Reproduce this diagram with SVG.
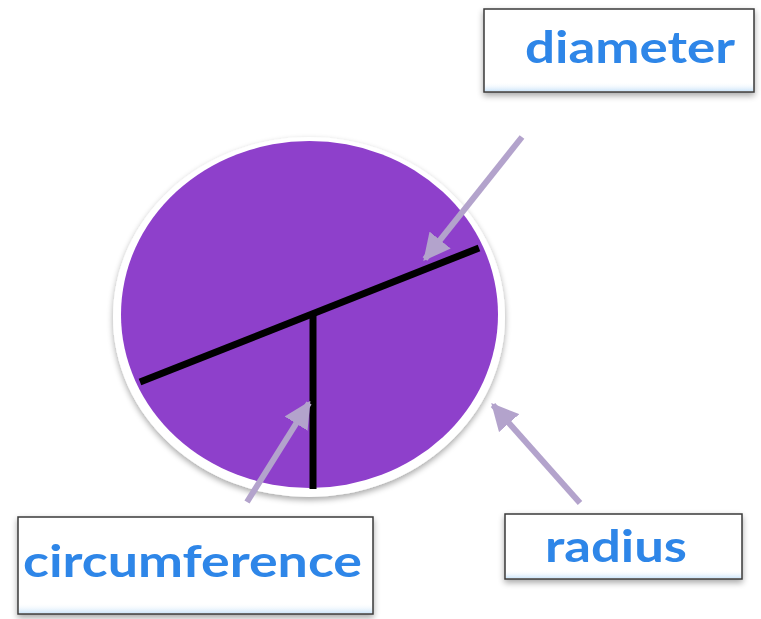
<svg xmlns="http://www.w3.org/2000/svg" width="761" height="619" viewBox="0 0 761 619">
<defs>
<style>
.box{fill:#fff;stroke:#3a3a3a;stroke-width:1.5}
.lbl{font-family:Lato,"Open Sans",sans-serif;font-size:43px;font-weight:bold;fill:#2f86e8}
.arr{stroke:#b3a3cc;stroke-width:6;fill:none}
.blk{stroke:#000;stroke-width:7;fill:none}
</style>
<filter id="sh" x="-20%" y="-20%" width="140%" height="140%">
<feGaussianBlur in="SourceAlpha" stdDeviation="3"/>
<feOffset dx="0" dy="3"/>
<feComponentTransfer><feFuncA type="linear" slope="0.35"/></feComponentTransfer>
<feMerge><feMergeNode/><feMergeNode in="SourceGraphic"/></feMerge>
</filter>
<linearGradient id="haze" x1="0" y1="0" x2="0" y2="1">
<stop offset="0" stop-color="#fff" stop-opacity="0"/>
<stop offset="1" stop-color="#cfe6fa"/>
</linearGradient>
<marker id="ah" viewBox="0 0 10 10" refX="9" refY="5" markerWidth="4.5" markerHeight="4.5" orient="auto" markerUnits="strokeWidth">
<path d="M0,0 L10,5 L0,10 z" fill="#b3a3cc"/>
</marker>
</defs>
<rect width="761" height="619" fill="#fff"/>
<g id="circle" filter="url(#sh)">
<ellipse cx="309" cy="317" rx="196" ry="180" fill="#fff"/>
<ellipse cx="309.5" cy="314.5" rx="188.5" ry="173.5" fill="#8e3fcb"/>
</g>
<g id="lines">
<line class="blk" x1="140" y1="382" x2="479" y2="248"/>
<line class="blk" x1="313" y1="314" x2="313" y2="489"/>
</g>
<g id="connectors">
<line class="arr" x1="522" y1="137" x2="425" y2="259" marker-end="url(#ah)"/>
<line class="arr" x1="247" y1="502" x2="309" y2="403" marker-end="url(#ah)"/>
<line class="arr" x1="580" y1="503" x2="493" y2="405" marker-end="url(#ah)"/>
</g>
<g id="diameter" filter="url(#sh)">
<rect class="box" x="484" y="9" width="270" height="83"/>
<rect x="485" y="82" width="268" height="9" fill="url(#haze)"/>
<text class="lbl" x="525" y="63" textLength="210" lengthAdjust="spacingAndGlyphs">diameter</text>
</g>
<g id="circumference" filter="url(#sh)">
<rect class="box" x="18" y="517" width="355" height="97"/>
<rect x="19" y="603" width="353" height="10" fill="url(#haze)"/>
<text class="lbl" x="23" y="577" textLength="339" lengthAdjust="spacingAndGlyphs">circumference</text>
</g>
<g id="radius" filter="url(#sh)">
<rect class="box" x="505" y="514" width="237" height="65"/>
<rect x="506" y="570" width="235" height="8" fill="url(#haze)"/>
<text class="lbl" x="545" y="562" textLength="142" lengthAdjust="spacingAndGlyphs">radius</text>
</g>
</svg>
